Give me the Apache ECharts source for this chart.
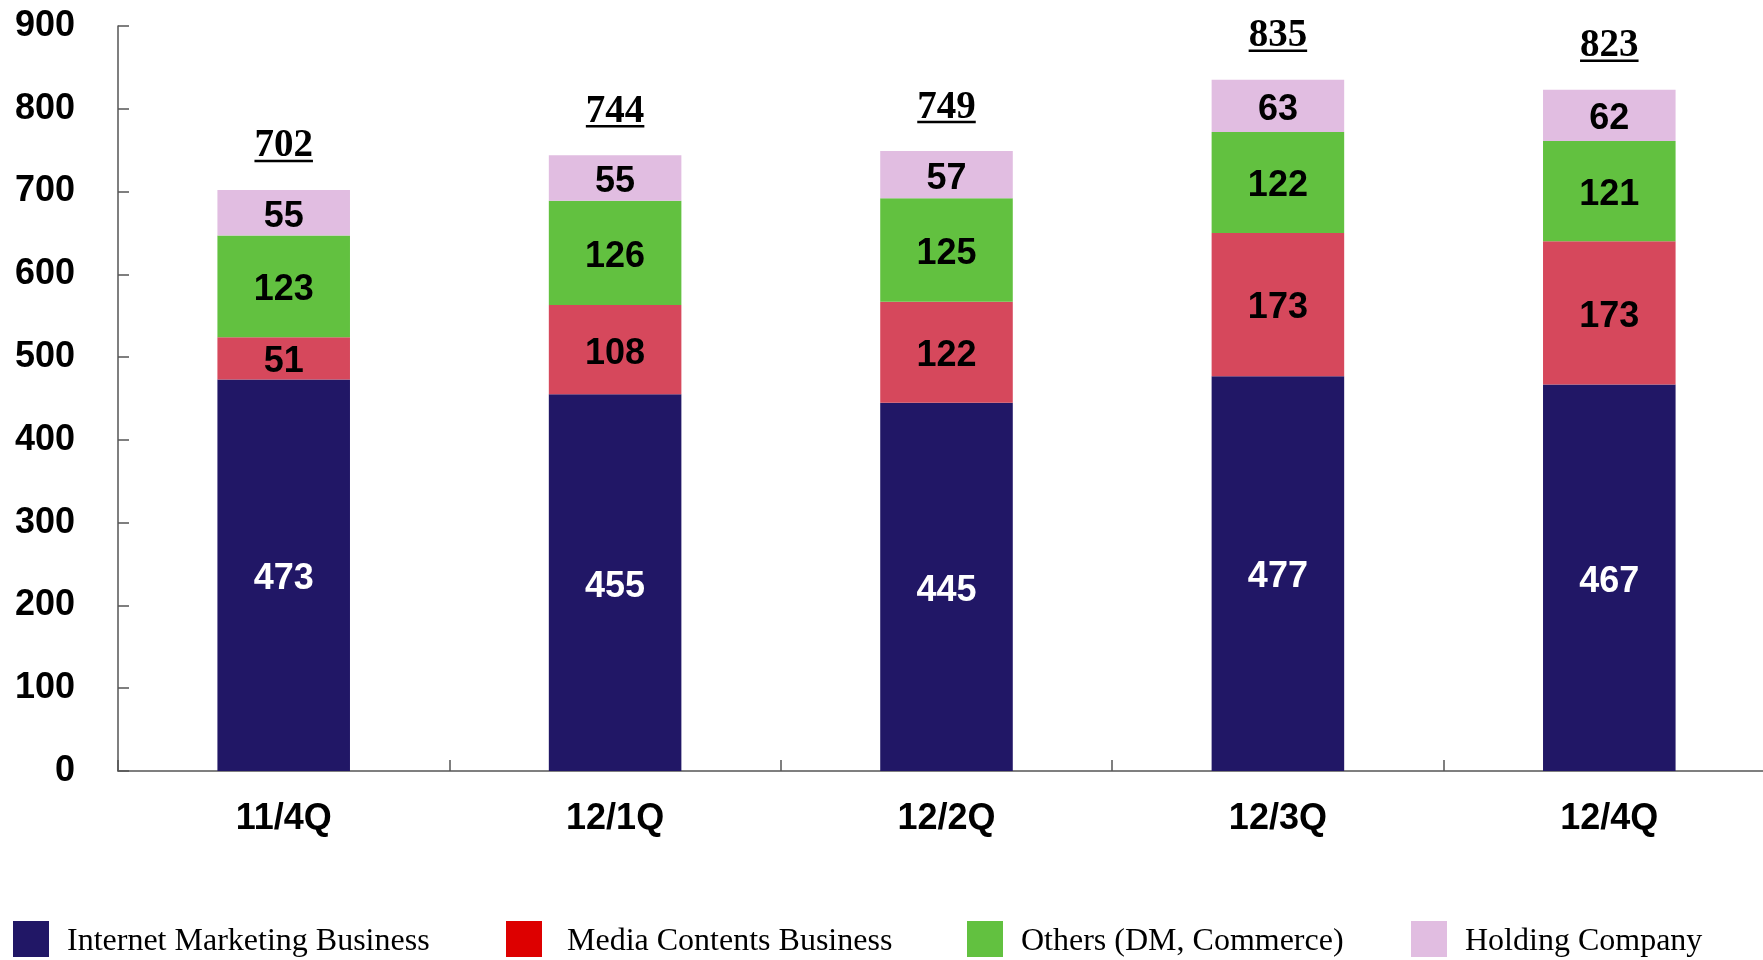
<!DOCTYPE html>
<html>
<head>
<meta charset="utf-8">
<script src="https://cdn.jsdelivr.net/npm/echarts@6/dist/echarts.min.js"></script>
<style>
  html, body { margin: 0; padding: 0; background: #ffffff; }
  #chart { width: 1763px; height: 960px; }
</style>
</head>
<body>
<div id="chart"></div>
<script>
// Quarterly sales by business segment
const quarters = ['11/4Q', '12/1Q', '12/2Q', '12/3Q', '12/4Q'];
const internetMarketing = [473, 455, 445, 477, 467];
const mediaContents = [51, 108, 122, 173, 173];
const others = [123, 126, 125, 122, 121];
const holdingCompany = [55, 55, 57, 63, 62];
const yTicks = [0, 100, 200, 300, 400, 500, 600, 700, 800, 900];

const seriesNames = ['Internet Marketing Business', 'Media Contents Business', 'Others (DM, Commerce)', 'Holding Company'];
const barColors = ['#211766', '#D6485C', '#62C140', '#E1BDE1'];
const legendColors = ['#211766', '#DD0000', '#62C140', '#E1BDE1'];
const labelColors = ['#ffffff', '#000000', '#000000', '#000000'];
const segments = [internetMarketing, mediaContents, others, holdingCompany];

const totals = quarters.map((q, i) => segments.reduce((s, arr) => s + arr[i], 0));

const sansFamily = '"Liberation Sans", Arial, sans-serif';
const serifFamily = '"Liberation Serif", "Times New Roman", serif';

const chart = echarts.init(document.getElementById('chart'), null, { renderer: 'canvas' });

const barSeries = segments.map((data, k) => ({
  name: seriesNames[k],
  type: 'bar',
  stack: 'total',
  data: data,
  barWidth: '40%',
  itemStyle: { color: barColors[k] },
  label: {
    show: true,
    position: 'inside',
    offset: [0, 4],
    color: labelColors[k],
    fontFamily: sansFamily,
    fontWeight: 'bold',
    fontSize: 36
  },
  emphasis: { disabled: true }
}));

// Underlined totals above each stacked column
const totalSeries = {
  name: 'Total',
  type: 'custom',
  data: totals.map((t, i) => [i, t]),
  z: 10,
  renderItem: function (params, api) {
    const p = api.coord([api.value(0), api.value(1)]);
    const txt = String(api.value(1));
    const fs = 39;
    const w = txt.length * fs * 0.5;
    return {
      type: 'group',
      children: [
        {
          type: 'text',
          style: {
            text: txt,
            x: p[0],
            y: p[1] - 24,
            align: 'center',
            verticalAlign: 'bottom',
            font: 'bold ' + fs + 'px ' + serifFamily,
            fill: '#000000'
          }
        },
        {
          type: 'line',
          shape: { x1: p[0] - w / 2, y1: p[1] - 29, x2: p[0] + w / 2, y2: p[1] - 29 },
          style: { stroke: '#000000', lineWidth: 2.5 }
        }
      ]
    };
  }
};

// One legend block per segment so each key sits at its own spot along the bottom
const legendLefts = [13, 506, 967, 1411];
const legendTextGaps = [13, 20, 13, 13];
const legends = seriesNames.map((n, k) => ({
  left: legendLefts[k],
  top: 920,
  padding: 0,
  itemWidth: 36,
  itemHeight: 36,
  icon: 'rect',
  selectedMode: false,
  formatter: '{t|{name}}',
  textStyle: {
    fontFamily: serifFamily,
    fontSize: 32,
    color: '#000000',
    padding: [0, 0, 0, legendTextGaps[k]],
    rich: {
      t: {
        fontFamily: serifFamily,
        fontSize: 32,
        color: '#000000',
        lineHeight: 32,
        padding: [6, 0, 0, 0]
      }
    }
  },
  data: [{ name: n, itemStyle: { color: legendColors[k] } }]
}));

chart.setOption({
  animation: false,
  backgroundColor: '#ffffff',
  grid: {
    left: 118, top: 26, width: 1657, bottom: 189,
    containLabel: false,
    outerBoundsMode: 'none'
  },
  legend: legends,
  xAxis: {
    type: 'category',
    data: quarters,
    boundaryGap: true,
    axisLine: { show: true, lineStyle: { color: '#555555', width: 1.5 } },
    axisTick: { show: true, inside: true, length: 11, lineStyle: { color: '#555555', width: 1.5 } },
    axisLabel: {
      color: '#000000',
      fontFamily: sansFamily,
      fontWeight: 'bold',
      fontSize: 36,
      margin: 30
    },
    splitLine: { show: false }
  },
  yAxis: {
    type: 'value',
    min: yTicks[0],
    max: yTicks[yTicks.length - 1],
    interval: 100,
    axisLine: { show: true, lineStyle: { color: '#555555', width: 1.5 } },
    axisTick: { show: true, inside: true, length: 11, lineStyle: { color: '#555555', width: 1.5 } },
    axisLabel: {
      color: '#000000',
      fontFamily: sansFamily,
      fontWeight: 'bold',
      fontSize: 36,
      margin: 43
    },
    splitLine: { show: false }
  },
  series: [...barSeries, totalSeries]
});
</script>
</body>
</html>
